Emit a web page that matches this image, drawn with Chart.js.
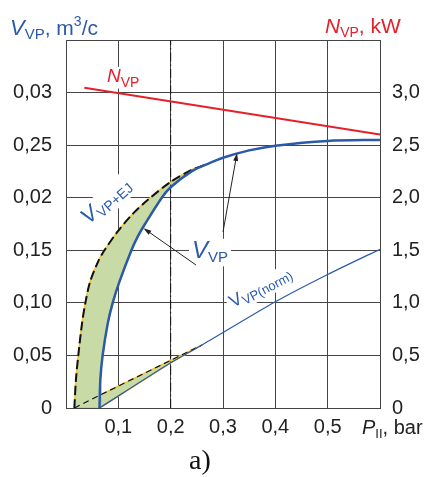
<!DOCTYPE html>
<html>
<head>
<meta charset="utf-8">
<script src="https://cdn.jsdelivr.net/npm/chart.js@4.4.1/dist/chart.umd.min.js"></script>
<style>
  html, body { margin: 0; padding: 0; background: #fff; }
</style>
</head>
<body>
<canvas id="chart" width="430" height="477"></canvas>
<script>
// Data (P in bar, V in m3/s, N in kW)
const vvpX = [0.064, 0.0656, 0.070, 0.0796, 0.0892, 0.102, 0.125, 0.137, 0.151, 0.183, 0.2, 0.24, 0.27, 0.3, 0.35, 0.4, 0.5, 0.6];
const vvpY = [0, 0.027, 0.050, 0.080, 0.100, 0.120, 0.150, 0.163, 0.175, 0.200, 0.210, 0.225, 0.232, 0.238, 0.245, 0.2495, 0.254, 0.255];

const ejX = [0.016, 0.019, 0.0235, 0.0305, 0.037, 0.046, 0.062, 0.0735, 0.0985, 0.1255, 0.156, 0.2007, 0.24, 0.27];
const ejY = [0, 0.027, 0.050, 0.080, 0.100, 0.120, 0.140, 0.150, 0.1677, 0.1836, 0.1978, 0.2153, 0.2264, 0.232];

const ejLowX = [0.016, 0.064, 0.26];
const ejLowY = [0, 0.012, 0.060];

const normX = [0.064, 0.2, 0.26, 0.4, 0.5, 0.6];
const normY = [0, 0.043, 0.060, 0.101, 0.127, 0.151];

const nvpX = [0.035, 0.6];
const nvpY = [3.045, 2.6];

const pRef = 0.2;

const xTicks = ['', '0,1', '0,2', '0,3', '0,4', '0,5', ''];
const leftTicks = ['0', '0,05', '0,10', '0,15', '0,02', '0,25', '0,03', ''];
const rightTicks = ['0', '0,5', '1,0', '1,5', '2,0', '2,5', '3,0', ''];

const FONT = '"Liberation Sans", Arial, Helvetica, sans-serif';
const BLUE = '#2b5aa8';
const RED = '#e4202a';
const GRID = '#454545';
const GREEN = '#c8dba6';
const YELLOW = '#f3c12d';

const pts = (xs, ys) => xs.map((x, i) => ({ x: x, y: ys[i] }));

const vvp = pts(vvpX, vvpY);
const ej = pts(ejX, ejY);
const ejLow = pts(ejLowX, ejLowY);
const norm = pts(normX, normY);

// green areas between the curves
const upperArea = ej.concat(vvp.filter(p => p.x <= ejX[ejX.length - 1]).reverse(), [ej[0]]);
const lowerArea = ejLow.slice(1).concat(norm.filter(p => p.x < ejLowX[ejLowX.length - 1]).reverse());

// labels inside the plot, anchored in data units
const inLabels = [
  { x: 0.0783, y: 0.3101, a: 0, parts: [['N', 19, 0, RED, 1], ['VP', 14, 5, RED]] },
  { x: 0.2408, y: 0.1427, a: 0, parts: [['V', 24, 0, BLUE, 1], ['VP', 15, 4, BLUE]] },
  { x: 0.043, y: 0.1740, a: -42, parts: [['V', 22, 0, BLUE, 1], ['VP+EJ', 14, 4, BLUE]] },
  { x: 0.3191, y: 0.0951, a: -28, parts: [['V', 18, 0, BLUE], ['VP(norm)', 13, 3, BLUE]] }
];
const arrows = [
  { x0: 0.2484, y0: 0.136, x1: 0.148, y1: 0.171 },
  { x0: 0.300, y0: 0.1674, x1: 0.3268, y1: 0.2425 }
];

function setFont(ctx, p) {
  ctx.font = (p[4] ? 'italic ' : '') + p[1] + 'px ' + FONT;
}

function drawRich(ctx, x, y, angle, parts, boxOnly) {
  ctx.save();
  ctx.translate(x, y);
  ctx.rotate(angle * Math.PI / 180);
  let w = 0;
  parts.forEach(p => { setFont(ctx, p); w += ctx.measureText(p[0]).width; });
  if (boxOnly) {
    const s = parts[0][1];
    ctx.fillStyle = '#fff';
    ctx.fillRect(-3, -s * 0.8, w + 6, s * 1.15);
  } else {
    let cx = 0;
    ctx.textBaseline = 'alphabetic';
    parts.forEach(p => {
      setFont(ctx, p);
      ctx.fillStyle = p[3];
      ctx.fillText(p[0], cx, p[2]);
      cx += ctx.measureText(p[0]).width;
    });
  }
  ctx.restore();
}

const annotations = {
  id: 'annotations',
  beforeDatasetsDraw(chart) {
    const ctx = chart.ctx, xs = chart.scales.x, ys = chart.scales.y;
    inLabels.forEach(l => drawRich(ctx, xs.getPixelForValue(l.x), ys.getPixelForValue(l.y), l.a, l.parts, true));
  },
  afterDatasetsDraw(chart) {
    const ctx = chart.ctx, xs = chart.scales.x, ys = chart.scales.y;
    inLabels.forEach(l => drawRich(ctx, xs.getPixelForValue(l.x), ys.getPixelForValue(l.y), l.a, l.parts, false));
    // arrows from the V_VP label to its curve
    arrows.forEach(a => {
      const x0 = xs.getPixelForValue(a.x0), y0 = ys.getPixelForValue(a.y0);
      const x1 = xs.getPixelForValue(a.x1), y1 = ys.getPixelForValue(a.y1);
      const ang = Math.atan2(y1 - y0, x1 - x0);
      ctx.save();
      ctx.strokeStyle = '#222';
      ctx.fillStyle = '#222';
      ctx.lineWidth = 1;
      ctx.beginPath();
      ctx.moveTo(x0, y0);
      ctx.lineTo(x1 - 5 * Math.cos(ang), y1 - 5 * Math.sin(ang));
      ctx.stroke();
      ctx.beginPath();
      ctx.moveTo(x1, y1);
      ctx.lineTo(x1 - 8 * Math.cos(ang) + 2.5 * Math.sin(ang), y1 - 8 * Math.sin(ang) - 2.5 * Math.cos(ang));
      ctx.lineTo(x1 - 8 * Math.cos(ang) - 2.5 * Math.sin(ang), y1 - 8 * Math.sin(ang) + 2.5 * Math.cos(ang));
      ctx.closePath();
      ctx.fill();
      ctx.restore();
    });
  },
  afterDraw(chart) {
    const ctx = chart.ctx;
    drawRich(ctx, 10, 35, 0, [['V', 22, 0, BLUE, 1], ['VP', 15, 4, BLUE], [', m', 21, 0, BLUE], ['3', 14, -9, BLUE], ['/c', 21, 0, BLUE]]);
    drawRich(ctx, 325, 33, 0, [['N', 21, 0, RED, 1], ['VP', 14, 4, RED], [', kW', 21, 0, RED]]);
    drawRich(ctx, 362, 434, 0, [['P', 20, 0, '#222', 1], ['II', 13, 4, '#222'], [', bar', 20, 0, '#222']]);
    ctx.save();
    ctx.font = '28px "Liberation Serif", "Times New Roman", serif';
    ctx.fillStyle = '#111';
    ctx.fillText('a)', 189, 469);
    ctx.restore();
  }
};

const tickFont = { family: FONT, size: 20 };

new Chart(document.getElementById('chart'), {
  type: 'line',
  data: {
    datasets: [
      { data: upperArea, fill: 'shape', backgroundColor: GREEN, borderColor: YELLOW, borderWidth: 1.5, tension: 0.3, pointRadius: 0, order: 6 },
      { data: lowerArea, fill: 'shape', backgroundColor: GREEN, borderColor: YELLOW, borderWidth: 1.5, tension: 0, pointRadius: 0, order: 6 },
      { data: [{ x: pRef, y: 0 }, { x: pRef, y: 0.35 }], borderColor: '#111', borderWidth: 1, borderDash: [9, 3, 1.5, 3], pointRadius: 0, fill: false, order: 4 },
      { data: ej, borderColor: '#111', borderWidth: 2, borderDash: [9, 4], tension: 0.3, pointRadius: 0, fill: false, order: 2 },
      { data: ejLow, borderColor: '#111', borderWidth: 1.2, borderDash: [6, 4], tension: 0, pointRadius: 0, fill: false, order: 2 },
      { data: vvp, borderColor: BLUE, borderWidth: 2.5, tension: 0.3, pointRadius: 0, fill: false, order: 1 },
      { data: norm, borderColor: BLUE, borderWidth: 1.2, tension: 0.2, pointRadius: 0, fill: false, order: 1 },
      { data: pts(nvpX, nvpY), yAxisID: 'y1', borderColor: RED, borderWidth: 2, tension: 0, pointRadius: 0, fill: false, order: 1 }
    ]
  },
  options: {
    responsive: false,
    animation: false,
    devicePixelRatio: 1,
    layout: { padding: { top: 40, left: 0, right: 0, bottom: 0 } },
    plugins: { legend: { display: false }, tooltip: { enabled: false } },
    scales: {
      x: {
        type: 'linear', min: 0, max: 0.6,
        ticks: { stepSize: 0.1, autoSkip: false, maxRotation: 0, padding: 7, font: tickFont, color: '#222',
          callback: (v, i) => xTicks[i] },
        grid: { color: GRID, lineWidth: 1, drawTicks: false },
        border: { color: GRID },
        afterFit(s) { s.height = 69; }
      },
      y: {
        position: 'left', min: 0, max: 0.35,
        ticks: { stepSize: 0.05, autoSkip: false, padding: 14, font: tickFont, color: '#222',
          callback: (v, i) => leftTicks[i] },
        grid: { color: GRID, lineWidth: 1, drawTicks: false },
        border: { color: GRID },
        afterFit(s) { s.width = 66; }
      },
      y1: {
        position: 'right', min: 0, max: 3.5,
        ticks: { stepSize: 0.5, autoSkip: false, padding: 12, font: tickFont, color: '#222',
          callback: (v, i) => rightTicks[i] },
        grid: { display: false, drawTicks: false },
        border: { color: GRID },
        afterFit(s) { s.width = 50; }
      }
    }
  },
  plugins: [annotations]
});
</script>
</body>
</html>
